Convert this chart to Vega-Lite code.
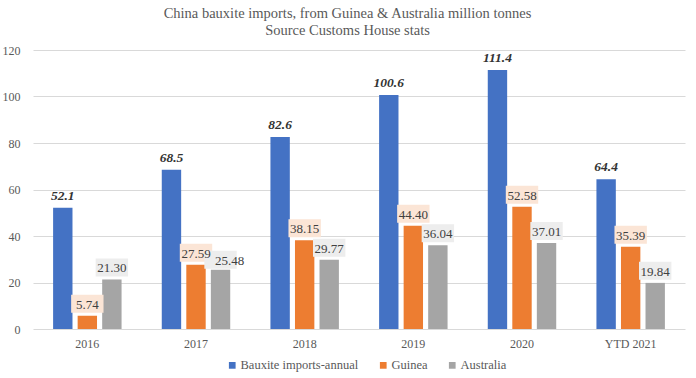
{
  "$schema": "https://vega.github.io/schema/vega-lite/v6.json",
  "width": 652,
  "height": 279,
  "autosize": {"type": "none"},
  "padding": {"left": 33, "top": 50, "right": 11, "bottom": 49},
  "background": "white",
  "config": {
    "font": "Liberation Serif",
    "view": {"stroke": null},
    "axis": {"labelFont": "Liberation Serif", "labelColor": "#595959", "labelFontSize": 12}
  },
  "title": {
    "text": ["China bauxite imports, from Guinea & Australia million tonnes", "Source Customs House stats"],
    "font": "Liberation Serif",
    "fontSize": 14.5,
    "fontWeight": "normal",
    "color": "#595959",
    "lineHeight": 17,
    "anchor": "middle",
    "frame": "bounds",
    "offset": 6,
    "dx": 4
  },
  "data": {
    "values": [
      {"year": "2016", "series": "Bauxite imports-annual", "value": 52.1},
      {"year": "2016", "series": "Guinea", "value": 5.74},
      {"year": "2016", "series": "Australia", "value": 21.30},
      {"year": "2017", "series": "Bauxite imports-annual", "value": 68.5},
      {"year": "2017", "series": "Guinea", "value": 27.59},
      {"year": "2017", "series": "Australia", "value": 25.48},
      {"year": "2018", "series": "Bauxite imports-annual", "value": 82.6},
      {"year": "2018", "series": "Guinea", "value": 38.15},
      {"year": "2018", "series": "Australia", "value": 29.77},
      {"year": "2019", "series": "Bauxite imports-annual", "value": 100.6},
      {"year": "2019", "series": "Guinea", "value": 44.40},
      {"year": "2019", "series": "Australia", "value": 36.04},
      {"year": "2020", "series": "Bauxite imports-annual", "value": 111.4},
      {"year": "2020", "series": "Guinea", "value": 52.58},
      {"year": "2020", "series": "Australia", "value": 37.01},
      {"year": "YTD 2021", "series": "Bauxite imports-annual", "value": 64.4},
      {"year": "YTD 2021", "series": "Guinea", "value": 35.39},
      {"year": "YTD 2021", "series": "Australia", "value": 19.84}
    ]
  },
  "encoding": {
    "x": {
      "field": "year", "type": "nominal", "sort": null,
      "scale": {"paddingInner": 0.37, "paddingOuter": 0.185},
      "axis": {"title": null, "labelAngle": 0, "ticks": false, "domain": false, "labelPadding": 9}
    },
    "xOffset": {
      "field": "series", "type": "nominal",
      "sort": ["Bauxite imports-annual", "Guinea", "Australia"],
      "scale": {"paddingInner": 0.21, "paddingOuter": 0}
    },
    "y": {
      "field": "value", "type": "quantitative",
      "scale": {"domain": [0, 120], "nice": false},
      "axis": {"title": null, "values": [0, 20, 40, 60, 80, 100, 120], "ticks": false, "domain": false, "gridColor": "#d9d9d9", "labelPadding": 13}
    }
  },
  "layer": [
    {
      "mark": {"type": "bar"},
      "encoding": {
        "color": {
          "field": "series", "type": "nominal",
          "sort": ["Bauxite imports-annual", "Guinea", "Australia"],
          "scale": {"domain": ["Bauxite imports-annual", "Guinea", "Australia"], "range": ["#4472C4", "#ED7D31", "#A5A5A5"]},
          "legend": {
            "title": null, "orient": "none", "legendX": 193, "legendY": 309, "direction": "horizontal",
            "symbolType": "square", "symbolSize": 45, "symbolStrokeWidth": 0,
            "labelFont": "Liberation Serif", "labelFontSize": 12.5, "labelColor": "#595959",
            "columnPadding": 18, "labelOffset": 2
          }
        }
      }
    },
    {
      "transform": [{"filter": "datum.series === 'Bauxite imports-annual'"}],
      "mark": {"type": "text", "baseline": "bottom", "dy": -5, "fontSize": 13.5, "fontWeight": "bold", "fontStyle": "italic", "color": "#333333", "font": "Liberation Serif"},
      "encoding": {"text": {"field": "value", "type": "quantitative", "format": ".1f"}}
    },
    {
      "transform": [{"filter": "datum.series === 'Guinea'"}],
      "mark": {"type": "point", "shape": "M-0.9,-0.5L0.9,-0.5L0.9,0.5L-0.9,0.5Z", "size": 1296, "filled": true, "fill": "#FBE5D6", "opacity": 1, "strokeWidth": 0, "yOffset": -12},
      "encoding": {}
    },
    {
      "transform": [{"filter": "datum.series === 'Australia' && datum.year !== '2017'"}],
      "mark": {"type": "point", "shape": "M-0.9,-0.5L0.9,-0.5L0.9,0.5L-0.9,0.5Z", "size": 1296, "filled": true, "fill": "#EDEDED", "opacity": 1, "strokeWidth": 0, "yOffset": -12},
      "encoding": {}
    },
    {
      "transform": [{"filter": "datum.series === 'Australia' && datum.year === '2017'"}],
      "mark": {"type": "point", "shape": "M-0.9,-0.5L0.9,-0.5L0.9,0.5L-0.9,0.5Z", "size": 1296, "filled": true, "fill": "#EDEDED", "opacity": 1, "strokeWidth": 0, "yOffset": -10, "xOffset": 9},
      "encoding": {}
    },
    {
      "transform": [{"filter": "datum.series === 'Guinea' || (datum.series === 'Australia' && datum.year !== '2017')"}],
      "mark": {"type": "text", "baseline": "middle", "dy": -11, "fontSize": 13, "color": "#404040", "font": "Liberation Serif"},
      "encoding": {"text": {"field": "value", "type": "quantitative", "format": ".2f"}}
    },
    {
      "transform": [{"filter": "datum.series === 'Australia' && datum.year === '2017'"}],
      "mark": {"type": "text", "baseline": "middle", "dy": -9, "dx": 9, "fontSize": 13, "color": "#404040", "font": "Liberation Serif"},
      "encoding": {"text": {"field": "value", "type": "quantitative", "format": ".2f"}}
    }
  ]
}
